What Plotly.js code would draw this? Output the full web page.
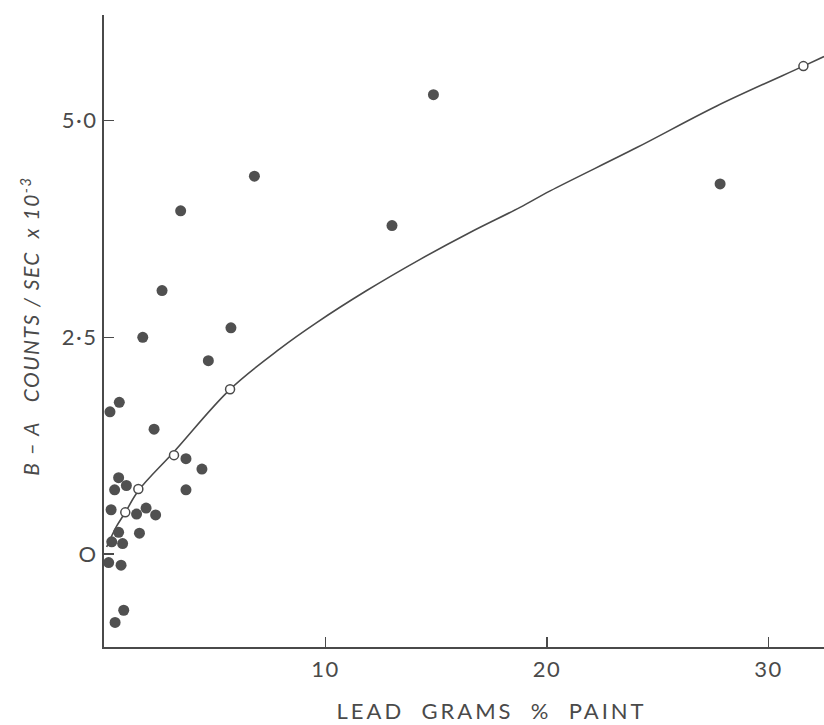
<!DOCTYPE html>
<html>
<head>
<meta charset="utf-8">
<script src="https://cdn.plot.ly/plotly-3.0.1.min.js"></script>
<style>
html,body{margin:0;padding:0;background:#fff;}
#chart{width:824px;height:725px;}
g.xtick text, g.ytick text{letter-spacing:1.5px;}
</style>
</head>
<body>
<div id="chart"></div>
<script>
// Measured samples (filled circles)
var sampleX = [4.71, 0.69, 0.27, 2.26, 3.70, 4.42, 0.66, 0.48, 1.01, 3.70, 0.32, 1.47, 1.90, 2.33, 0.66, 1.60, 0.35, 0.84, 0.21, 0.77, 0.89, 0.50,
               2.62, 1.75, 5.73, 3.46, 6.79, 13.0, 14.87, 27.81];
var sampleY = [2.23, 1.75, 1.64, 1.44, 1.10, 0.98, 0.88, 0.74, 0.79, 0.74, 0.51, 0.46, 0.53, 0.45, 0.25, 0.24, 0.14, 0.12, -0.10, -0.13, -0.65, -0.79,
               3.04, 2.50, 2.61, 3.96, 4.36, 3.79, 5.30, 4.27];
// Standards (open circles)
var stdX = [0.96, 1.55, 3.16, 5.69, 31.57];
var stdY = [0.48, 0.75, 1.14, 1.90, 5.63];
// Calibration curve (hand drawn)
var curveX = [0.12, 0.57, 0.96, 1.55, 3.16, 5.69, 7.95, 9.60, 11.86, 14.27, 16.52, 18.78, 20.14, 24.05, 27.66, 31.57, 32.5];
var curveY = [0.08, 0.32, 0.48, 0.73, 1.18, 1.90, 2.37, 2.67, 3.04, 3.40, 3.71, 4.00, 4.19, 4.69, 5.17, 5.63, 5.74];

var xTicks = [10, 20, 30];
var xTickText = ["10", "20", "30"];
var yTicks = [0, 2.5, 5.0];
var yTickText = ["O", "2·5", "5·0"];

var ink = "#4a4a4a";
var fontFam = "Lato, 'DejaVu Sans', sans-serif";

var traces = [
  {x: curveX, y: curveY, mode: "lines", type: "scatter", line: {color: ink, width: 1.6, shape: "spline", smoothing: 1.0}, hoverinfo: "skip", cliponaxis: false},
  {x: sampleX, y: sampleY, mode: "markers", type: "scatter", marker: {color: "#505050", size: 11, line: {width: 0}}, cliponaxis: false},
  {x: stdX, y: stdY, mode: "markers", type: "scatter", marker: {color: "#ffffff", size: 9, line: {color: ink, width: 1.5}}, cliponaxis: false}
];

var layout = {
  width: 824, height: 725,
  margin: {l: 104, r: 0, t: 15, b: 78},
  paper_bgcolor: "#ffffff", plot_bgcolor: "#ffffff",
  showlegend: false,
  font: {family: fontFam, color: ink},
  xaxis: {
    range: [0, 32.5], showgrid: false, zeroline: false,
    showline: true, linecolor: ink, linewidth: 2,
    ticks: "inside", ticklen: 10, tickwidth: 1.5, tickcolor: ink,
    tickvals: xTicks, ticktext: xTickText,
    tickfont: {size: 22, color: ink, family: fontFam},
    ticklabelstandoff: 2
  },
  yaxis: {
    range: [-1.074, 6.22], showgrid: false, zeroline: false,
    showline: true, linecolor: ink, linewidth: 2,
    ticks: "inside", ticklen: 10, tickwidth: 1.5, tickcolor: ink,
    tickvals: yTicks, ticktext: yTickText,
    tickfont: {size: 22, color: ink, family: fontFam},
    ticklabelstandoff: 0
  },
  annotations: [
    {text: "LEAD  GRAMS  %  PAINT", xref: "paper", yref: "paper", x: 0.5375, y: -0.1,
     xanchor: "center", yanchor: "middle", showarrow: false,
     font: {size: 22, color: ink, family: fontFam}},
    {text: "<i>B – A   COUNTS / SEC  x 10<sup>-3</sup></i>", xref: "paper", yref: "paper", x: -0.104, y: 0.507,
     xanchor: "center", yanchor: "middle", textangle: -90, showarrow: false,
     font: {size: 21, color: ink, family: fontFam}}
  ]
};

Plotly.newPlot("chart", traces, layout, {displayModeBar: false, staticPlot: true}).then(function () {
  var t = document.querySelectorAll(".annotation-text");
  if (t[0]) t[0].style.letterSpacing = "3px";
  if (t[1]) t[1].style.letterSpacing = "1.5px";
});
</script>
</body>
</html>
